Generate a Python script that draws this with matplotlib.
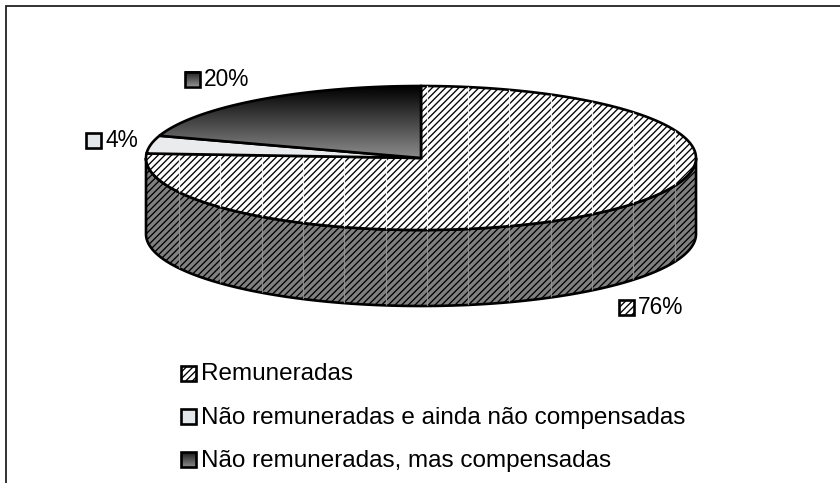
import numpy as np
import matplotlib
matplotlib.use("Agg")
import matplotlib.pyplot as plt
from matplotlib.patches import Polygon, Rectangle

categories = ["Remuneradas", "Não remuneradas e ainda não compensadas", "Não remuneradas, mas compensadas"]
values = [76, 4, 20]
labels = ["76%", "4%", "20%"]

plt.rcParams['font.family'] = ['Liberation Sans', 'DejaVu Sans']
plt.rcParams['hatch.linewidth'] = 0.95
W, H = 840, 483
fig = plt.figure(figsize=(W/100, H/100), dpi=100)
ax = fig.add_axes([0, 0, 1, 1])
ax.set_xlim(0, W); ax.set_ylim(H, 0); ax.axis('off')

cx, cy, rx, ry, depth = 421, 158, 275, 72, 76
LW = 1.9
HATCH = '/////'

def ell(t):
    t = np.radians(t)
    return np.column_stack([cx + rx*np.cos(t), cy - ry*np.sin(t)])

fracs = np.cumsum([0] + values) / sum(values)
angs = 90 - 360*fracs

def wedge(a0, a1):
    t = np.linspace(a0, a1, 200)
    return np.vstack([[cx, cy], ell(t)])

# frame: only the top and left edges fall inside the crop
ax.plot([6, 6, W], [H, 5.5, 5.5], color='#222222', lw=1.3, solid_joinstyle='miter')

t = np.linspace(180, 360, 300)
top = ell(t)
side = np.vstack([top, (top + [0, depth])[::-1]])
ax.add_patch(Polygon(side, closed=True, fc='#808080', ec='black', hatch=HATCH, lw=LW, zorder=2))

w0 = wedge(angs[0], angs[1])
ax.add_patch(Polygon(w0, closed=True, fc='white', ec='black', hatch=HATCH, lw=LW, zorder=3))

w1 = wedge(angs[1], angs[2])
ax.add_patch(Polygon(w1, closed=True, fc='#e9ebed', ec='black', lw=LW, zorder=4))

w2 = wedge(angs[2], angs[3])
ax.add_patch(Polygon(w2, closed=True, fc='none', ec='black', lw=LW, zorder=6))
grad = np.linspace(0.0, 0.55, 256).reshape(-1, 1)
im = ax.imshow(grad, cmap='gray', vmin=0, vmax=1, extent=[130, 425, cy, cy-ry], aspect='auto', zorder=5)
im.set_clip_path(Polygon(w2, closed=True, transform=ax.transData))
ax.set_xlim(0, W); ax.set_ylim(H, 0)

for x in np.arange(179, 700, 41.3):
    ln = ax.plot([x, x], [60, 320], color='white', lw=0.9, alpha=0.85, zorder=3.5)[0]
    ln.set_clip_path(Polygon(w0, closed=True, transform=ax.transData))
    ln2 = ax.plot([x, x], [60, 320], color='#9a9a9a', lw=0.9, alpha=0.8, zorder=2.5)[0]
    ln2.set_clip_path(Polygon(side, closed=True, transform=ax.transData))

def swatch(x, y, kind, s=15):
    if kind == 0:
        ax.add_patch(Rectangle((x, y), s, s, fc='white', ec='black', hatch='/////', lw=1.9, zorder=8))
    elif kind == 1:
        ax.add_patch(Rectangle((x, y), s, s, fc='#e4e7ea', ec='black', lw=1.9, zorder=8))
    else:
        g = np.linspace(0.1, 0.55, 64).reshape(-1, 1)
        ax.imshow(g, cmap='gray', vmin=0, vmax=1, extent=[x, x+s, y+s, y], aspect='auto', zorder=8)
        ax.add_patch(Rectangle((x, y), s, s, fc='none', ec='black', lw=1.9, zorder=9))
        ax.set_xlim(0, W); ax.set_ylim(H, 0)

FS = 17.5
for kind, (sx, sy) in enumerate([(618.5, 299.5), (85.5, 132.5), (184.5, 71.5)]):
    swatch(sx, sy, kind)
    ax.text(sx + 19.5, sy + 8, labels[kind], fontsize=16.4, va='center', ha='left', color='black', zorder=10)

for kind, ly in enumerate([373, 416.5, 459.5]):
    swatch(180.5, ly - 7.5, kind)
    ax.text(201, ly + 1.5, categories[kind], fontsize=FS, va='center', ha='left', color='black', zorder=10)

fig.savefig('out.png', dpi=100)
